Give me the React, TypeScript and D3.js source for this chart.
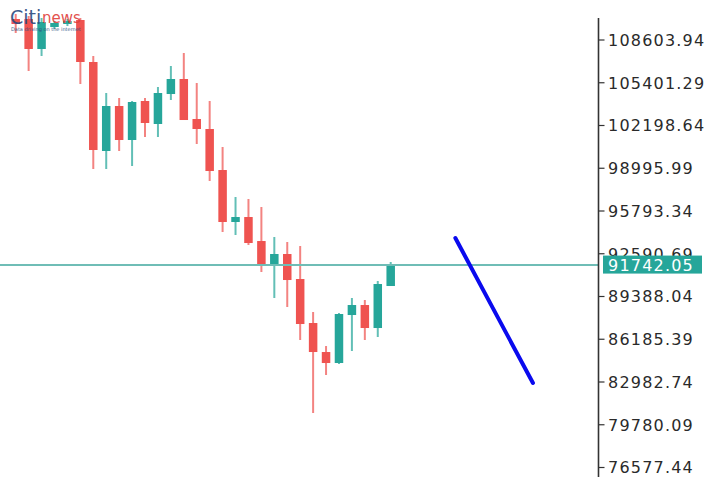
import React from "react";
import * as d3 from "d3";

// OHLC data (30 daily candles)
const opens = [110177, 110177, 107930, 109578, 109803, 110102, 106956, 100288, 103659, 101112, 104034, 102311, 104558, 105682, 102685, 101936, 98864, 94969, 95343, 93545, 91822, 92571, 90698, 87402, 85229, 84405, 88001, 88750, 87027, 90174];
const highs = [110552, 110402, 110252, 110027, 110177, 110252, 107405, 104633, 104259, 104034, 104259, 105083, 106655, 107630, 105382, 104034, 100588, 96842, 96692, 96092, 93845, 93470, 93170, 88226, 85678, 88151, 89275, 89125, 90548, 91972];
const lows = [109128, 106281, 107405, 109428, 109653, 105307, 98939, 98939, 100288, 99164, 101337, 101337, 104109, 102610, 100812, 98040, 94219, 93995, 93245, 91223, 89275, 88600, 86128, 80659, 83506, 84330, 85304, 86128, 86353, 90174];
const closes = [109803, 107930, 109952, 109878, 110027, 106956, 100363, 103659, 101112, 103959, 102386, 104633, 105682, 102610, 101936, 98789, 94969, 95343, 93395, 91822, 92571, 90623, 87327, 85229, 84405, 88076, 88750, 87027, 90323, 91742.05];

// Axis tick labels
const tickLabels = ["108603.94", "105401.29", "102198.64", "98995.99", "95793.34", "92590.69", "89388.04", "86185.39", "82982.74", "79780.09", "76577.44"];
const lastPrice = 91742.05;
const lastPriceLabel = "91742.05";

// Projection trend line (bar index, price)
const trendIdx = [34, 40];
const trendPrice = [93770, 82908];

const W = 715;
const H = 492;
const UP = "#26a69a";
const DOWN = "#ef5350";

export default function App() {
  const y = d3.scaleLinear().domain([76577.44, 108603.94]).range([467.5, 40]);
  const x = d3.scaleLinear().domain([0, 29]).range([15.7, 390.7]);
  const axisX = 598.5;
  const bodyW = 8.5;

  const candles = opens.map((o, i) => ({
    o,
    h: highs[i],
    l: lows[i],
    c: closes[i],
    i,
  }));

  const trendLine = d3
    .line<number>()
    .x((_, k) => x(trendIdx[k]))
    .y((p) => y(p))(trendPrice);

  const font = "'DejaVu Sans', Verdana, sans-serif";

  return (
    <svg
      width={W}
      height={H}
      style={{ position: "absolute", left: 0, top: 0, background: "#fff" }}
    >
      <rect x={0} y={0} width={W} height={H} fill="#fff" />
      {/* candles */}
      {candles.map((d) => {
        const up = d.c >= d.o;
        const col = up ? UP : DOWN;
        const cx = x(d.i);
        const top = y(Math.max(d.o, d.c));
        const bot = y(Math.min(d.o, d.c));
        return (
          <g key={d.i}>
            <line
              x1={cx}
              x2={cx}
              y1={y(d.h)}
              y2={y(d.l)}
              stroke={col}
              strokeOpacity={0.72}
              strokeWidth={2}
            />
            <rect
              x={cx - bodyW / 2}
              y={top}
              width={bodyW}
              height={Math.max(bot - top, 2.5)}
              fill={col}
            />
          </g>
        );
      })}

      {/* last price line */}
      <line
        x1={0}
        x2={axisX}
        y1={y(lastPrice)}
        y2={y(lastPrice)}
        stroke="#6fbdb6"
        strokeWidth={2}
      />

      {/* trend line */}
      <path
        d={trendLine || ""}
        stroke="#0a0aee"
        strokeWidth={4}
        strokeLinecap="round"
        fill="none"
      />

      {/* right axis */}
      <line x1={axisX} x2={axisX} y1={18} y2={477} stroke="#333" strokeWidth={1.6} />
      {tickLabels.map((t) => {
        const ty = y(parseFloat(t));
        return (
          <g key={t}>
            <line x1={axisX} x2={axisX + 6} y1={ty} y2={ty} stroke="#333" strokeWidth={1.2} />
            <text
              x={608}
              y={ty}
              dy="0.36em"
              fontFamily={font}
              fontSize={16}
              letterSpacing={1.2}
              fill="#2a2a2a"
            >
              {t}
            </text>
          </g>
        );
      })}

      {/* last price label */}
      <rect x={603} y={y(lastPrice) - 9.5} width={99} height={18} fill={UP} />
      <text
        x={608}
        y={y(lastPrice)}
        dy="0.36em"
        fontFamily={font}
        fontSize={16}
        letterSpacing={1.2}
        fill="#fff"
      >
        {lastPriceLabel}
      </text>

      {/* logo */}
      <g>
        <text x={10} y={24} fontFamily="'DejaVu Sans', sans-serif" fontSize={19} fill="#2b4b80" opacity={0.9}>
          Citi
        </text>
        <text x={42} y={23} fontFamily="'DejaVu Sans', sans-serif" fontSize={15} fill="#e0403a" opacity={0.9}>
          news
        </text>
        <text x={11} y={30.5} fontFamily="'DejaVu Sans', sans-serif" fontSize={5} fill="#2b4b80" opacity={0.9}>
          Data driving on the internet
        </text>
      </g>
    </svg>
  );
}
